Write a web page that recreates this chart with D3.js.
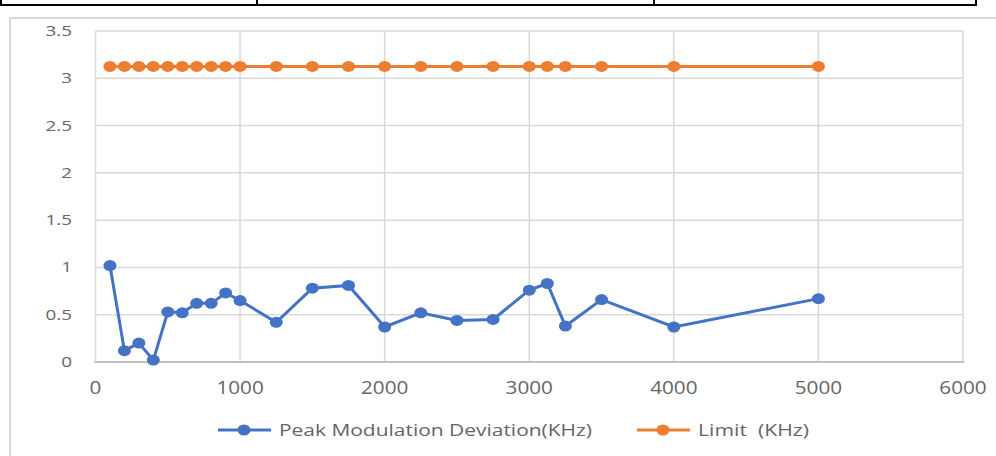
<!DOCTYPE html>
<html lang="en">
<head>
<meta charset="utf-8">
<title>Peak Modulation Deviation</title>
<style>
  body { margin: 0; background: #ffffff; }
  .tick { font-family: "Open Sans", Arial, sans-serif; fill: #666666; }
  .legendLabel { font-family: "Open Sans", Arial, sans-serif; fill: #666666; font-size: 16px; white-space: pre; }
</style>
</head>
<body>
<div id="chart"></div>
<script src="https://cdn.jsdelivr.net/npm/d3@7"></script>
<script>

var freqs = [100, 200, 300, 400, 500, 600, 700, 800, 900, 1000, 1250, 1500, 1750, 2000, 2250, 2500, 2750, 3000, 3125, 3250, 3500, 4000, 5000];
var peak  = [1.02, 0.12, 0.2, 0.02, 0.53, 0.52, 0.62, 0.62, 0.73, 0.65, 0.42, 0.78, 0.81, 0.37, 0.52, 0.44, 0.45, 0.76, 0.83, 0.38, 0.66, 0.37, 0.67];
var limit = [3.125, 3.125, 3.125, 3.125, 3.125, 3.125, 3.125, 3.125, 3.125, 3.125, 3.125, 3.125, 3.125, 3.125, 3.125, 3.125, 3.125, 3.125, 3.125, 3.125, 3.125, 3.125, 3.125];
var xTicks = [0, 1000, 2000, 3000, 4000, 5000, 6000];
var yTicks = [0, 0.5, 1, 1.5, 2, 2.5, 3, 3.5];
var seriesNames = ["Peak Modulation Deviation(KHz)", "Limit  (KHz)"];
var colors = ["#4472C4", "#ED7D31"];

var width = 996, height = 456;

var svg = d3.select("#chart").append("svg")
    .attr("width", width)
    .attr("height", height);

// table border remnant at the very top
svg.append("line").attr("x1", 0).attr("x2", 977).attr("y1", 5).attr("y2", 5)
   .style("stroke", "#000").style("stroke-width", 2);
[1, 257, 654, 976].forEach(function(x){
  svg.append("line").attr("x1", x).attr("x2", x).attr("y1", 0).attr("y2", 5)
     .style("stroke", "#000").style("stroke-width", 2);
});

// chart frame
svg.append("rect")
   .attr("x", 10).attr("y", 18)
   .attr("width", 1000).attr("height", 460)
   .style("fill", "none")
   .style("stroke", "#d9d9d9")
   .style("stroke-width", 2);

var x = d3.scaleLinear().domain([0, 6000]).range([95.5, 963]);
var y = d3.scaleLinear().domain([0, 3.5]).range([362, 31]);

// gridlines
svg.selectAll("line.vgrid")
   .data(xTicks)
   .enter().append("line")
   .attr("class", "vgrid")
   .attr("x1", function(d){ return x(d); })
   .attr("x2", function(d){ return x(d); })
   .attr("y1", y(3.5)).attr("y2", y(0))
   .style("stroke", "#d9d9d9").style("stroke-width", 1.5);

svg.selectAll("line.hgrid")
   .data(yTicks.filter(function(d){ return d > 0; }))
   .enter().append("line")
   .attr("class", "hgrid")
   .attr("x1", x(0)).attr("x2", x(6000))
   .attr("y1", function(d){ return y(d); })
   .attr("y2", function(d){ return y(d); })
   .style("stroke", "#d9d9d9").style("stroke-width", 1.5);

// x axis line
svg.append("line")
   .attr("x1", x(0) - 1).attr("x2", x(6000) + 1)
   .attr("y1", y(0)).attr("y2", y(0))
   .style("stroke", "#bfbfbf").style("stroke-width", 2);

function stretch(sel, k) {
  sel.each(function(){
    var w = this.getComputedTextLength();
    d3.select(this).attr("textLength", w * k).attr("lengthAdjust", "spacingAndGlyphs");
  });
}

// y tick labels
svg.selectAll("text.ytick")
   .data(yTicks)
   .enter().append("text")
   .attr("class", "tick ytick")
   .attr("x", 72)
   .attr("y", function(d){ return y(d) + 5; })
   .attr("text-anchor", "end")
   .style("font-size", "14px")
   .text(function(d){ return d; })
   .call(stretch, 1.35);

// x tick labels
svg.selectAll("text.xtick")
   .data(xTicks)
   .enter().append("text")
   .attr("class", "tick xtick")
   .attr("x", function(d){ return x(d); })
   .attr("y", 394)
   .attr("text-anchor", "middle")
   .style("font-size", "18px")
   .text(function(d){ return d; })
   .call(stretch, 1.15);

var line = d3.line()
    .x(function(d){ return x(d[0]); })
    .y(function(d){ return y(d[1]); });

[peak, limit].forEach(function(vals, i){
  var pts = freqs.map(function(f, j){ return [f, vals[j]]; });
  svg.append("path")
     .datum(pts)
     .attr("d", line)
     .style("fill", "none")
     .style("stroke", colors[i])
     .style("stroke-width", 3);
  svg.selectAll("ellipse.s" + i)
     .data(pts)
     .enter().append("ellipse")
     .attr("class", "s" + i)
     .attr("cx", function(d){ return x(d[0]); })
     .attr("cy", function(d){ return y(d[1]); })
     .attr("rx", 6.5).attr("ry", 5.5)
     .style("fill", colors[i]);
});

// legend
var legendX = [218, 637], legendW = [313, 111];
seriesNames.forEach(function(name, i){
  var g = svg.append("g");
  g.append("line")
   .attr("x1", legendX[i]).attr("x2", legendX[i] + 53)
   .attr("y1", 430).attr("y2", 430)
   .style("stroke", colors[i]).style("stroke-width", 3);
  g.append("ellipse")
   .attr("cx", legendX[i] + 26).attr("cy", 430)
   .attr("rx", 6.5).attr("ry", 5.5)
   .style("fill", colors[i]);
  g.append("text")
   .attr("class", "legendLabel")
   .attr("x", legendX[i] + 61)
   .attr("y", 436)
   .attr("textLength", legendW[i])
   .attr("lengthAdjust", "spacingAndGlyphs")
   .text(name);
});

</script>
</body>
</html>
